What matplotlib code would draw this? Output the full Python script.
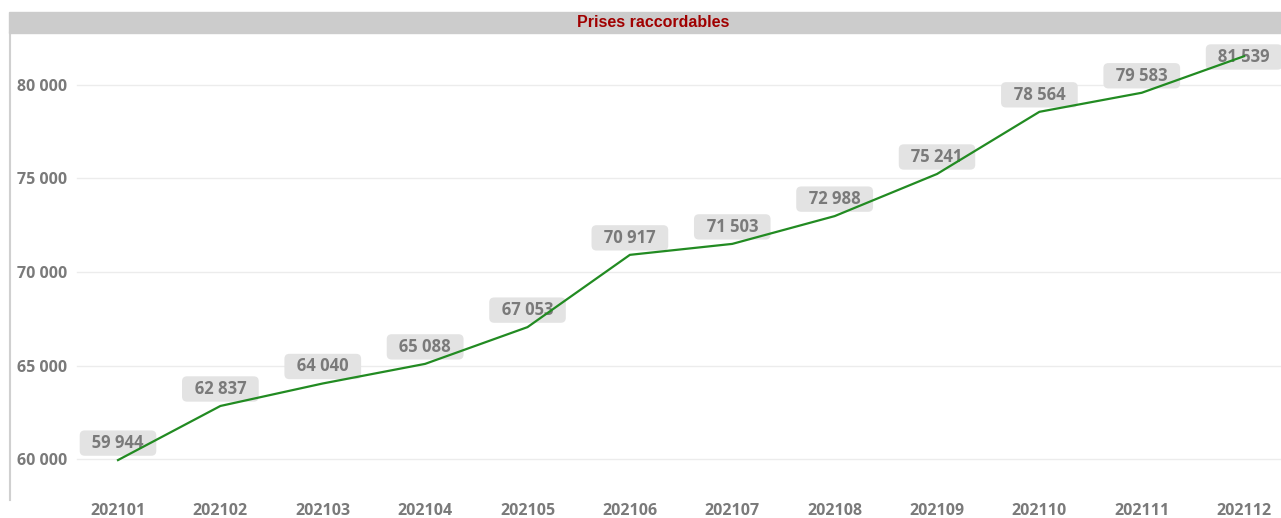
import matplotlib
matplotlib.use("Agg")
import matplotlib.pyplot as plt
from matplotlib.patches import Rectangle

months = ["202101", "202102", "202103", "202104", "202105", "202106",
          "202107", "202108", "202109", "202110", "202111", "202112"]
prises = [59944, 62837, 64040, 65088, 67053, 70917,
          71503, 72988, 75241, 78564, 79583, 81539]
yticks = [60000, 65000, 70000, 75000, 80000]
title = "Prises raccordables"

W, H = 1281, 518
fig = plt.figure(figsize=(W / 100, H / 100), dpi=100)

# title bar
fig.patches.append(Rectangle((9 / W, 1 - 33 / H), 1 - 9 / W, 21 / H,
                             transform=fig.transFigure, color="#cccccc", zorder=0))
fig.text(653 / W, 1 - 22.5 / H, title, ha="center", va="center",
         color="#a00000", fontsize=11.5, fontweight="heavy", family="Liberation Sans")

ax = fig.add_axes([10 / W, 18 / H, 1271 / W, 467 / H])
ax.set_xlim(-1.055, 11.36)
ax.set_ylim(57810, 82778)

x = list(range(len(months)))
ax.plot(x, prises, color="#228b22", lw=1.6, zorder=5)

# gridlines starting right of the labels
for t in yticks:
    ax.axhline(t, xmin=67 / 1271, xmax=1, color="#ececec", lw=1, zorder=1)

ylo, yhi = ax.get_ylim()
pxv = 1000 / 18.717  # data units per pixel
for xi, v in zip(x, prises):
    ly = min(v + 17 * pxv, yhi - 24 * pxv)
    ax.text(xi, ly, "  " + f"{v:,}".replace(",", " ") + "  ", ha="center", va="center",
            fontsize=12, fontweight="bold", color="#7a7a7a", family="Open Sans",
            zorder=4,
            bbox=dict(boxstyle="round,pad=0.22,rounding_size=0.3",
                      fc="#e3e3e3", ec="none"))

ax.set_xticks(x)
ax.set_xticklabels(months)
ax.set_yticks(yticks)
ax.set_yticklabels([f"{t:,}".replace(",", " ") for t in yticks])
ax.tick_params(axis="x", length=0, pad=2, labelsize=11.5, colors="#7a7a7a")
ax.tick_params(axis="y", length=0, pad=-5, labelsize=11.5, colors="#7a7a7a")
for lab in ax.get_yticklabels():
    lab.set_horizontalalignment("left")
for lab in ax.get_xticklabels() + ax.get_yticklabels():
    lab.set_fontweight("bold")
    lab.set_family("Open Sans")

for s in ["top", "right", "bottom"]:
    ax.spines[s].set_visible(False)
ax.spines["left"].set_color("#d0d0d0")
ax.spines["left"].set_linewidth(1.5)

fig.savefig("out.png", dpi=100)
